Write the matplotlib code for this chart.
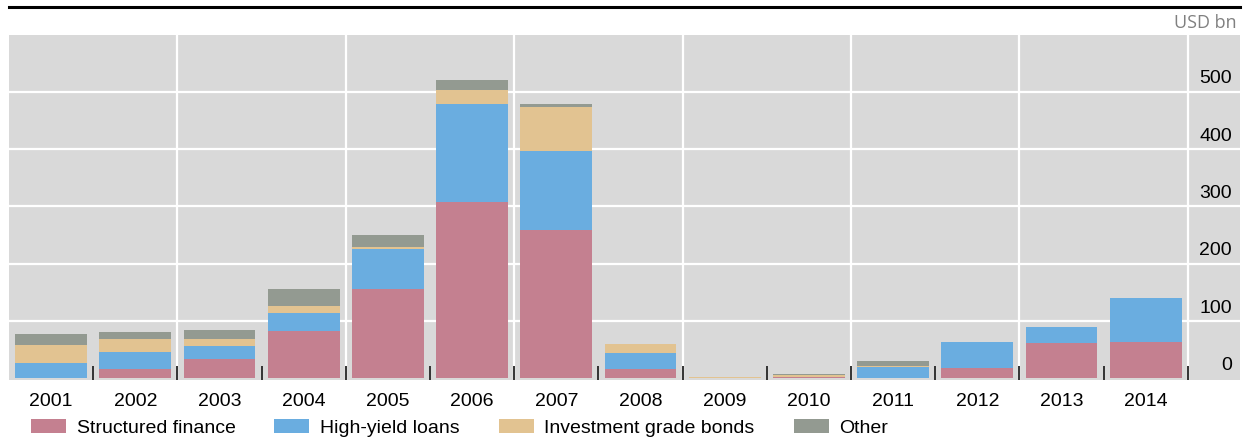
import numpy as np
import matplotlib.pyplot as plt
from matplotlib.patches import Patch
from matplotlib.lines import Line2D

# Issuance by year, USD bn
years = ["2001", "2002", "2003", "2004", "2005", "2006", "2007",
         "2008", "2009", "2010", "2011", "2012", "2013", "2014"]
structured = [0, 16, 33, 82, 155, 307, 258, 16, 0, 2, 1, 18, 61, 63]
high_yield = [26, 30, 23, 32, 70, 172, 138, 28, 1, 1, 18, 45, 28, 77]
inv_grade = [32, 23, 13, 12, 4, 24, 78, 16, 1, 3, 2, 0, 0, 0]
other = [19, 12, 15, 29, 21, 17, 5, 0, 0, 1, 9, 0, 0, 0]

series_names = ["Structured finance", "High-yield loans", "Investment grade bonds", "Other"]
colors = ["#c48090", "#6aade0", "#e2c391", "#939a91"]
y_ticks = [0, 100, 200, 300, 400, 500]

plt.rcParams['font.family'] = ['Liberation Sans', 'DejaVu Sans']
FS = 14

fig = plt.figure(figsize=(12.47, 4.4), dpi=100)
ax = fig.add_axes([9 / 1247, 1 - 380 / 440, 1231 / 1247, 345 / 440])
ax.set_facecolor("#d9d9d9")

x = np.arange(len(years))
bottom = np.zeros(len(years))
for vals, col in zip([structured, high_yield, inv_grade, other], colors):
    ax.bar(x, vals, width=0.855, bottom=bottom, color=col, zorder=3)
    bottom += np.array(vals)

ax.set_xlim(-0.5, len(years) - 0.5 + 0.62)
ax.set_ylim(-3, 599)

# grid: white horizontals, verticals every other category boundary
for v in y_ticks[1:]:
    ax.axhline(v, color="white", lw=1.6, zorder=1)
for b in np.arange(1.5, len(years), 2):
    ax.axvline(b, color="white", lw=1.6, zorder=1)

for s in ax.spines.values():
    s.set_visible(False)

ax.set_xticks(x)
ax.set_xticklabels(years, fontsize=FS)
ax.tick_params(axis="x", which="major", length=0, pad=9)
ax.set_xticks(np.arange(0.5, len(years), 1), minor=True)
ax.tick_params(axis="x", which="minor", direction="in", length=10, width=1.4, color="#333333")

# value labels on the right, sitting above each gridline
ax.set_yticks([])
for v in y_ticks:
    ax.annotate(str(v), xy=(0.9935, v), xycoords=ax.get_yaxis_transform(),
                xytext=(0, 6), textcoords="offset points",
                ha="right", va="baseline", fontsize=FS, color="black")

# top rule and unit
fig.add_artist(Line2D([9 / 1247, 1240 / 1247], [1 - 7 / 440, 1 - 7 / 440],
                      color="black", lw=2.2, transform=fig.transFigure))
fig.text(1237 / 1247, 1 - 23 / 440, "USD bn", ha="right", va="center",
         fontsize=13, color="#808080", family=["Open Sans", "DejaVu Sans"])

handles = [Patch(facecolor=c, edgecolor="none") for c in colors]
fig.legend(handles, series_names, loc="center left", bbox_to_anchor=(31 / 1247, 1 - 428 / 440),
           ncol=4, frameon=False, fontsize=FS, handlelength=1.8, handleheight=0.72,
           handletextpad=0.55, columnspacing=2.0, borderpad=0, borderaxespad=0)

fig.savefig("out.png", dpi=100)
